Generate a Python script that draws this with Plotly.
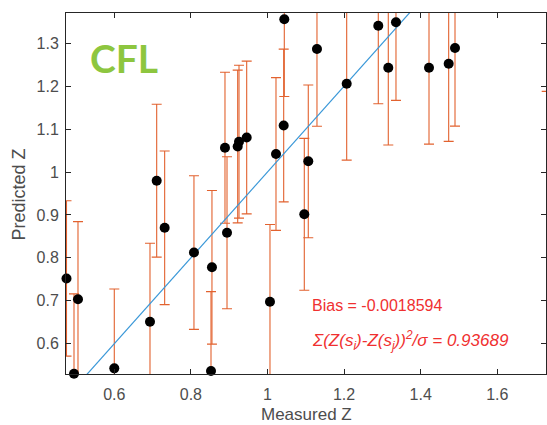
import plotly.graph_objects as go

# Data
measured = [0.4752, 0.4948, 0.5052, 0.600, 0.6932, 0.7107, 0.7315, 0.808,
            0.8525, 0.855, 0.889, 0.8943, 0.9222, 0.9256, 0.9457, 1.0065,
            1.0222, 1.0423, 1.0439, 1.0961, 1.1065, 1.1292, 1.2068, 1.2893,
            1.3154, 1.3355, 1.4217, 1.4731, 1.4896, 1.729]
predicted = [0.752, 0.530, 0.7034, 0.5426, 0.6512, 0.9798, 0.870, 0.8125,
             0.5363, 0.778, 1.0567, 0.8586, 1.0595, 1.0707, 1.0805, 0.6978,
             1.042, 1.1084, 1.356, 0.9015, 1.025, 1.2867, 1.2058, 1.341,
             1.2431, 1.349, 1.2431, 1.2525, 1.289, 1.370]
pred_err = [0.181, 0.186, 0.181, 0.185, 0.183, 0.178, 0.179, 0.179,
            0.185, 0.179, 0.176, 0.177, 0.178, 0.178, 0.178, 0.180,
            0.178, 0.178, 0.180, 0.177, 0.178, 0.180, 0.178, 0.182,
            0.180, 0.182, 0.178, 0.181, 0.182, 0.182]

ref_line = [0.4, 1.8]

x_tickvals = [0.6, 0.8, 1.0, 1.2, 1.4, 1.6]
x_ticktext = ["0.6", "0.8", "1", "1.2", "1.4", "1.6"]
y_tickvals = [0.6, 0.7, 0.8, 0.9, 1.0, 1.1, 1.2, 1.3]
y_ticktext = ["0.6", "0.7", "0.8", "0.9", "1", "1.1", "1.2", "1.3"]

bias_text = "Bias = -0.0018594"
chi_text = "<i>Σ(Z(s<sub>i</sub>)-Z(s<sub>j</sub>))<sup>2</sup>/σ = 0.93689</i>"

FONT = "Arial, 'Liberation Sans', sans-serif"
ERR_COLOR = "#E2622F"
AXIS_COLOR = "#262626"
TEXT_GRAY = "#4D4D4D"

fig = go.Figure()

# error bars (clipped to the axes)
fig.add_trace(go.Scatter(
    x=measured, y=predicted, mode="markers",
    marker=dict(size=1, color="rgba(0,0,0,0)"),
    error_y=dict(type="data", array=pred_err, visible=True,
                 color=ERR_COLOR, thickness=1.1, width=5),
    cliponaxis=True, hoverinfo="skip", showlegend=False))

# 1:1 reference line
fig.add_trace(go.Scatter(
    x=ref_line, y=ref_line, mode="lines",
    line=dict(color="#3A98D8", width=1.2),
    showlegend=False))

# points
fig.add_trace(go.Scatter(
    x=measured, y=predicted, mode="markers",
    marker=dict(size=10, color="black"),
    cliponaxis=False, showlegend=False))

axis_common = dict(
    showline=True, linecolor=AXIS_COLOR, linewidth=1, mirror="ticks",
    ticks="inside", ticklen=5, tickcolor=AXIS_COLOR, tickwidth=1,
    showgrid=False, zeroline=False,
    tickfont=dict(family=FONT, size=16, color=TEXT_GRAY),
)

fig.update_layout(
    width=547, height=425,
    margin=dict(l=66, r=1, t=13, b=51),
    paper_bgcolor="white", plot_bgcolor="white",
    xaxis=dict(range=[0.4739, 1.7272], tickvals=x_tickvals,
               ticktext=x_ticktext, ticklabelstandoff=6, **axis_common),
    yaxis=dict(range=[0.5294, 1.3706], tickvals=y_tickvals,
               ticktext=y_ticktext, ticklabelstandoff=3, **axis_common),
    annotations=[
        dict(text="CFL", xref="paper", yref="paper", x=0.046, y=0.875,
             xanchor="left", yanchor="middle", showarrow=False,
             font=dict(family="Lato, 'Noto Sans', sans-serif", size=39,
                       color="#8DC63F", weight="bold")),
        dict(text=bias_text, xref="paper", yref="paper", x=0.508, y=0.191,
             xanchor="left", yanchor="middle", showarrow=False,
             font=dict(family=FONT, size=16, color="#F03030")),
        dict(text=chi_text, xref="paper", yref="paper", x=0.508, y=0.094,
             xanchor="left", yanchor="middle", showarrow=False,
             font=dict(family=FONT, size=17, color="#F03030")),
        dict(text="Measured Z", xref="paper", yref="paper", x=0.5, y=-0.112,
             xanchor="center", yanchor="middle", showarrow=False,
             font=dict(family=FONT, size=17, color=TEXT_GRAY)),
        dict(text="Predicted Z", xref="paper", yref="paper", x=-0.0969,
             y=0.4986, xanchor="center", yanchor="middle", showarrow=False,
             textangle=-90,
             font=dict(family=FONT, size=18, color=TEXT_GRAY)),
    ],
)

fig.write_html("out.html")
